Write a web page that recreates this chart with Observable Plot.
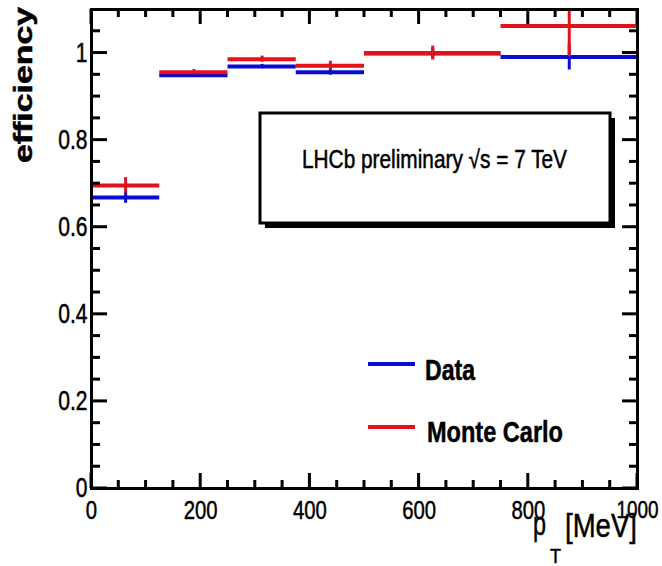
<!DOCTYPE html>
<html>
<head>
<meta charset="utf-8">
<script src="https://cdn.jsdelivr.net/npm/d3@7"></script>
<script src="https://cdn.jsdelivr.net/npm/@observablehq/plot@0.6"></script>
<style>
  html, body { margin: 0; padding: 0; background: #fff; }
</style>
</head>
<body>
<div id="chart"></div>
<script>
// ---- data ----
const binLo = [0, 125, 250, 375, 500, 750];
const binHi = [125, 250, 375, 500, 750, 1000];
const dataEff = [0.668, 0.949, 0.969, 0.956, 0.999, 0.991];
const dataErr = [0.013, 0.005, 0.005, 0.007, 0.012, 0.030];
const mcEff = [0.696, 0.956, 0.986, 0.971, 1.000, 1.062];
const mcErr = [0.018, 0.006, 0.007, 0.010, 0.016, 0.070];

const xMajor = [0, 200, 400, 600, 800, 1000];
const xMinor = [50, 100, 150, 250, 300, 350, 450, 500, 550, 650, 700, 750, 850, 900, 950];
const yMajor = [0, 0.2, 0.4, 0.6, 0.8, 1];
const yMinor = [0.05, 0.1, 0.15, 0.25, 0.3, 0.35, 0.45, 0.5, 0.55, 0.65, 0.7, 0.75, 0.85, 0.9, 0.95, 1.05];

const seriesNames = ["Data", "Monte Carlo"];
const seriesColors = ["#0a0ad8", "#e3121a"];
const boxText = "LHCb preliminary \u221As = 7 TeV";
const yTitle = "efficiency";
const xTitleMain = "p";
const xTitleSub = "T";
const xTitleUnit = "[MeV]";

const FONT = "'Liberation Sans', Arial, Helvetica, sans-serif";
const SQUEEZE = 0.78; // the reference image is stretched vertically

const rows = [];
binLo.forEach((lo, i) => {
  rows.push({series: "Data", lo, hi: binHi[i], mid: (lo + binHi[i]) / 2, v: dataEff[i], e: dataErr[i]});
});
binLo.forEach((lo, i) => {
  rows.push({series: "Monte Carlo", lo, hi: binHi[i], mid: (lo + binHi[i]) / 2, v: mcEff[i], e: mcErr[i]});
});
const colorOf = s => seriesColors[seriesNames.indexOf(s)];

// ROOT-style inward ticks on all four sides
function rootTicks(index, scales, values, dims) {
  const {x, y} = scales;
  const L = dims.marginLeft, R = dims.width - dims.marginRight;
  const T = dims.marginTop, B = dims.height - dims.marginBottom;
  const g = d3.create("svg:g").attr("stroke", "black").attr("stroke-width", 3).attr("fill", "none");
  const add = (x1, y1, x2, y2) => g.append("line").attr("x1", x1).attr("y1", y1).attr("x2", x2).attr("y2", y2);
  yMajor.forEach(v => { add(L, y(v), L + 16, y(v)); add(R, y(v), R - 15, y(v)); });
  yMinor.forEach(v => { add(L, y(v), L + 9, y(v)); add(R, y(v), R - 8, y(v)); });
  xMajor.forEach(v => { add(x(v), B, x(v), B - 15); add(x(v), T, x(v), T + 15); });
  xMinor.forEach(v => { add(x(v), B, x(v), B - 8); add(x(v), T, x(v), T + 8); });
  return g.node();
}

function txt(g, s, x, y, size, opts = {}) {
  const t = g.append("text").attr("x", x).attr("y", y)
    .attr("font-family", FONT).attr("font-size", size)
    .attr("text-anchor", opts.anchor || "start")
    .attr("font-weight", opts.weight || "normal")
    .attr("fill", "black")
    .attr("data-len", opts.len || null)
    .text(s);
  if (opts.transform) t.attr("transform", opts.transform);
  return t;
}

// Text box with ROOT shadow
function infoBox(index, scales, values, dims) {
  const g = d3.create("svg:g");
  const bx = 260, by = 113, bw = 350, bh = 110;
  g.append("rect").attr("x", bx + 5).attr("y", by + 5).attr("width", bw).attr("height", bh).attr("fill", "black");
  g.append("rect").attr("x", bx).attr("y", by).attr("width", bw).attr("height", bh)
    .attr("fill", "white").attr("stroke", "black").attr("stroke-width", 3);
  txt(g, boxText, 302, 168, 25, {len: 265});
  return g.node();
}

// Legend
function legend(index, scales, values, dims) {
  const g = d3.create("svg:g");
  const ys = [364, 427];
  const base = [380, 442];
  const tx = [425, 427];
  const lens = [50, 136];
  seriesNames.forEach((s, i) => {
    g.append("line").attr("x1", 368).attr("x2", 415).attr("y1", ys[i]).attr("y2", ys[i])
      .attr("stroke", seriesColors[i]).attr("stroke-width", 4);
    txt(g, s, tx[i], base[i], 30, {weight: "bold", len: lens[i]});
  });
  return g.node();
}

// Axis titles
function titles(index, scales, values, dims) {
  const g = d3.create("svg:g");
  // rotated y title; its end sits at the top
  txt(g, yTitle, 0, 0, 25.5, {weight: "bold", anchor: "end", len: 156, transform: "translate(32,7) rotate(-90)"});
  txt(g, xTitleMain, 533, 535, 34, {len: 13});
  txt(g, xTitleSub, 550, 563, 20, {len: 11});
  txt(g, xTitleUnit, 637, 537, 34, {anchor: "end", len: 72});
  return g.node();
}

const chart = Plot.plot({
  width: 662,
  height: 566,
  marginLeft: 91,
  marginRight: 25,
  marginTop: 9,
  marginBottom: 78,
  x: {domain: [0, 1000]},
  y: {domain: [0, 1.1]},
  style: {background: "white", color: "black"},
  marks: [
    Plot.ruleY(rows, {y: "v", x1: "lo", x2: "hi", stroke: d => colorOf(d.series), strokeWidth: 4, clip: true}),
    Plot.ruleX(rows, {x: "mid", y1: d => d.v - d.e, y2: d => d.v + d.e, stroke: d => colorOf(d.series), strokeWidth: 3, clip: true}),
    rootTicks,
    Plot.frame({stroke: "black", strokeWidth: 3}),
    infoBox,
    legend,
    titles,
    Plot.axisY({ticks: yMajor, tickSize: 0, tickPadding: 4, tickFormat: d => String(d), fontSize: 27, fontFamily: FONT, label: null}),
    Plot.axisX({ticks: xMajor, tickSize: 0, tickPadding: 12, tickFormat: d => String(d), fontSize: 26, fontFamily: FONT, label: null})
  ]
});
document.getElementById("chart").appendChild(chart);

// The last x label is drawn a little smaller in the reference
chart.querySelectorAll("text").forEach(t => {
  if (t.textContent === String(xMajor[xMajor.length - 1]) && !t.getAttribute("data-len")) {
    t.setAttribute("font-size", 24);
    t.setAttribute("data-len", 42);
  }
});

// Narrow the glyphs the way the (vertically stretched) reference shows them,
// and thicken the strokes slightly as in the reference rendering
chart.querySelectorAll("text").forEach(t => {
  const w = t.getComputedTextLength();
  if (!w) return;
  const fixed = t.getAttribute("data-len");
  t.setAttribute("textLength", fixed ? fixed : (w * SQUEEZE).toFixed(2));
  t.setAttribute("lengthAdjust", "spacingAndGlyphs");
  t.setAttribute("stroke", "black");
  t.setAttribute("stroke-width", "0.5");
});
</script>
</body>
</html>
